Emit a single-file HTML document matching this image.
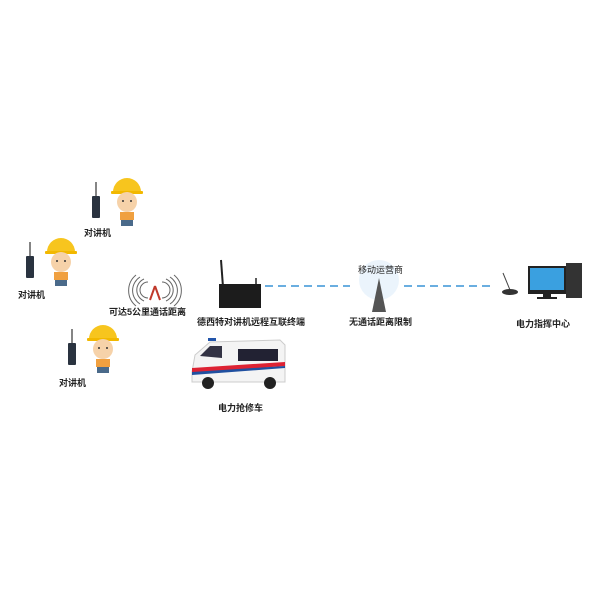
<!DOCTYPE html>
<html><head><meta charset="utf-8"><style>
body{margin:0;background:#fff;}
svg{display:block}
text{font-family:"Liberation Sans","Noto Sans CJK SC",sans-serif;font-size:9px;font-weight:bold;fill:#222}
</style></head><body>
<svg width="600" height="600" viewBox="0 0 600 600">
<defs>
<g id="worker">
  <line x1="2" y1="-26" x2="2" y2="-12" stroke="#333" stroke-width="1.2"/>
  <rect x="-2" y="-12" width="8" height="22" rx="1" fill="#2a3340"/>
  <path d="M19 -16 a14 14 0 0 1 28 0 z" fill="#f7c51e"/>
  <rect x="17" y="-17" width="32" height="3" rx="1" fill="#f2b800"/>
  <ellipse cx="33" cy="-6" rx="10" ry="10" fill="#f6d2a9"/>
  <circle cx="29" cy="-7" r="1" fill="#333"/><circle cx="37" cy="-7" r="1" fill="#333"/>
  <rect x="26" y="4" width="14" height="8" fill="#f0a040"/>
  <rect x="27" y="12" width="12" height="6" fill="#4a6a8a"/>
</g>
</defs>
<use href="#worker" x="94" y="208"/>
<text x="84" y="236">对讲机</text>
<use href="#worker" x="28" y="268"/>
<text x="18" y="298">对讲机</text>
<use href="#worker" x="70" y="355"/>
<text x="59" y="386">对讲机</text>

<g fill="none" stroke="#666" stroke-width="1">
<path d="M148 282 a8 8 0 0 0 0 16"/><path d="M144 279 a12 12 0 0 0 0 22"/><path d="M140 277 a16 16 0 0 0 0 27"/><path d="M136 275 a20 20 0 0 0 0 31"/>
<path d="M162 282 a8 8 0 0 1 0 16"/><path d="M166 279 a12 12 0 0 1 0 22"/><path d="M170 277 a16 16 0 0 1 0 27"/><path d="M174 275 a20 20 0 0 1 0 31"/>
</g>
<path d="M155 286 L150 300 M155 286 L160 300" stroke="#c0392b" stroke-width="2"/>
<text x="109" y="315">可达5公里通话距离</text>

<line x1="221" y1="260" x2="223" y2="287" stroke="#222" stroke-width="2"/>
<line x1="256" y1="278" x2="256" y2="285" stroke="#222" stroke-width="1.5"/>
<rect x="219" y="284" width="42" height="24" fill="#1c1c1c"/>
<text x="197" y="325">德西特对讲机远程互联终端</text>

<line x1="265" y1="286" x2="350" y2="286" stroke="#6aaee0" stroke-width="2" stroke-dasharray="8,5"/>
<line x1="404" y1="286" x2="492" y2="286" stroke="#6aaee0" stroke-width="2" stroke-dasharray="8,5"/>

<circle cx="379" cy="280" r="20" fill="#e3f0fb" opacity=".7"/>
<path d="M379 278 L372 312 L386 312 Z" fill="#555"/>
<text x="358" y="273" style="font-weight:normal">移动运营商</text>
<text x="349" y="325">无通话距离限制</text>

<line x1="503" y1="273" x2="510" y2="290" stroke="#444" stroke-width="1"/>
<ellipse cx="510" cy="292" rx="8" ry="3" fill="#333"/>
<rect x="528" y="266" width="38" height="28" fill="#222"/>
<rect x="530" y="268" width="34" height="22" fill="#3aa0e0"/>
<rect x="543" y="294" width="8" height="4" fill="#222"/>
<rect x="537" y="297" width="20" height="2" fill="#222"/>
<rect x="566" y="263" width="16" height="35" fill="#333"/>
<text x="516" y="327">电力指挥中心</text>

<path d="M192 372 L195 355 L210 342 L280 340 L285 345 L285 382 L192 382 Z" fill="#f4f4f4" stroke="#ccc"/>
<path d="M192 368 L285 362 L285 366 L192 373 Z" fill="#d23"/>
<path d="M192 372 L285 366 L285 368 L192 375 Z" fill="#2050a0"/>
<rect x="238" y="349" width="40" height="12" fill="#223"/>
<path d="M200 356 L210 346 L222 346 L222 358 Z" fill="#334"/>
<rect x="208" y="338" width="8" height="3" fill="#25a"/>
<circle cx="208" cy="383" r="6" fill="#222"/><circle cx="270" cy="383" r="6" fill="#222"/>
<text x="218" y="411">电力抢修车</text>
</svg>
</body></html>
